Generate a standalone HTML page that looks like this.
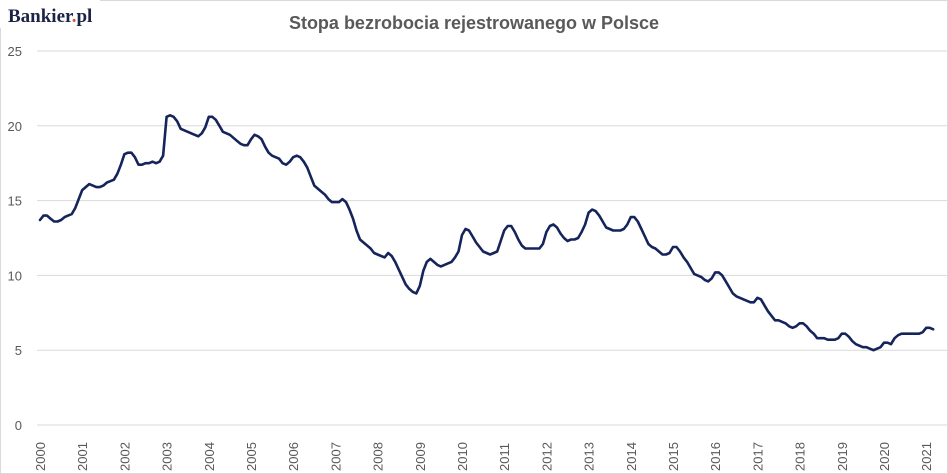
<!DOCTYPE html>
<html><head><meta charset="utf-8"><style>
body{margin:0;background:#fff;}
#wrap{position:relative;width:948px;height:474px;overflow:hidden;background:#fff;font-family:"Liberation Sans",sans-serif;}
</style></head><body>
<div id="wrap">
<svg id="chart" width="948" height="474">
<rect x="0.5" y="0.5" width="947" height="473" fill="#fff" stroke="#d9d9d9"/>
<rect x="0" y="0" width="100" height="28" fill="#fff"/>
<text x="8" y="22" font-family="Liberation Serif,serif" font-weight="bold" font-size="19" fill="#1b2347">Bankier<tspan fill="#e8501e">.</tspan>pl</text>
<text x="474" y="29" text-anchor="middle" font-weight="bold" font-size="18" fill="#595959">Stopa bezrobocia rejestrowanego w Polsce</text>
<g id="grid"></g><g id="yl"></g><g id="xl"></g><g id="ln"></g>
</svg>
<script>
const yTicks=[0,5,10,15,20,25];
const years=[2000,2001,2002,2003,2004,2005,2006,2007,2008,2009,2010,2011,2012,2013,2014,2015,2016,2017,2018,2019,2020,2021];
const rates=[
13.7,14.0,14.0,13.8,13.6,13.6,13.7,13.9,14.0,14.1,14.5,15.1,
15.7,15.9,16.1,16.0,15.9,15.9,16.0,16.2,16.3,16.4,16.8,17.4,
18.1,18.2,18.2,17.9,17.4,17.4,17.5,17.5,17.6,17.5,17.6,18.0,
20.6,20.7,20.6,20.3,19.8,19.7,19.6,19.5,19.4,19.3,19.5,19.9,
20.6,20.6,20.4,20.0,19.6,19.5,19.4,19.2,19.0,18.8,18.7,18.7,
19.1,19.4,19.3,19.1,18.6,18.2,18.0,17.9,17.8,17.5,17.4,17.6,
17.9,18.0,17.9,17.6,17.2,16.6,16.0,15.8,15.6,15.4,15.1,14.9,
14.9,14.9,15.1,14.9,14.4,13.8,13.0,12.4,12.2,12.0,11.8,11.5,
11.4,11.3,11.2,11.5,11.3,10.9,10.4,9.9,9.4,9.1,8.9,8.8,
9.3,10.3,10.9,11.1,10.9,10.7,10.6,10.7,10.8,10.9,11.2,11.6,
12.7,13.1,13.0,12.6,12.2,11.9,11.6,11.5,11.4,11.5,11.6,12.3,
13.0,13.3,13.3,12.9,12.4,12.0,11.8,11.8,11.8,11.8,11.8,12.1,
12.9,13.3,13.4,13.2,12.8,12.5,12.3,12.4,12.4,12.5,12.9,13.4,
14.2,14.4,14.3,14.0,13.6,13.2,13.1,13.0,13.0,13.0,13.1,13.4,
13.9,13.9,13.6,13.1,12.6,12.1,11.9,11.8,11.6,11.4,11.4,11.5,
11.9,11.9,11.6,11.2,10.9,10.5,10.1,10.0,9.9,9.7,9.6,9.8,
10.2,10.2,10.0,9.6,9.2,8.8,8.6,8.5,8.4,8.3,8.2,8.2,
8.5,8.4,8.0,7.6,7.3,7.0,7.0,6.9,6.8,6.6,6.5,6.6,
6.8,6.8,6.6,6.3,6.1,5.8,5.8,5.8,5.7,5.7,5.7,5.8,
6.1,6.1,5.9,5.6,5.4,5.3,5.2,5.2,5.1,5.0,5.1,5.2,
5.5,5.5,5.4,5.8,6.0,6.1,6.1,6.1,6.1,6.1,6.1,6.2,
6.5,6.5,6.4];
const NS='http://www.w3.org/2000/svg';
const x=t=>40+(t-2000)*42.2;
const y=v=>425-v*14.96;
function mk(tag,attrs,parent){const e=document.createElementNS(NS,tag);for(const k in attrs)e.setAttribute(k,attrs[k]);document.getElementById(parent).appendChild(e);return e;}
yTicks.forEach(v=>{
 const g=mk('line',{x1:37,x2:948,y1:y(v),y2:y(v),stroke:'#d9d9d9','stroke-width':1},'grid');
 
 
 const t=mk('text',{x:22,y:y(v)+5,'text-anchor':'end','font-size':13,fill:'#595959'},'yl');
 t.textContent=v;
 
 
});
years.forEach(yr=>{
 const t=mk('text',{transform:'translate('+(x(yr)+5)+',471) rotate(-90)','font-size':13,fill:'#595959'},'xl');
 t.textContent=yr;
 
 
});
const d=rates.map((v,i)=>(i?'L':'M')+x(2000+i/12).toFixed(1)+','+y(v).toFixed(1)).join('');
const p=mk('path',{d:d,fill:'none',stroke:'#15245a','stroke-width':2.6,'stroke-linejoin':'round','stroke-linecap':'round'},'ln');


</script>
</div>
</body></html>
